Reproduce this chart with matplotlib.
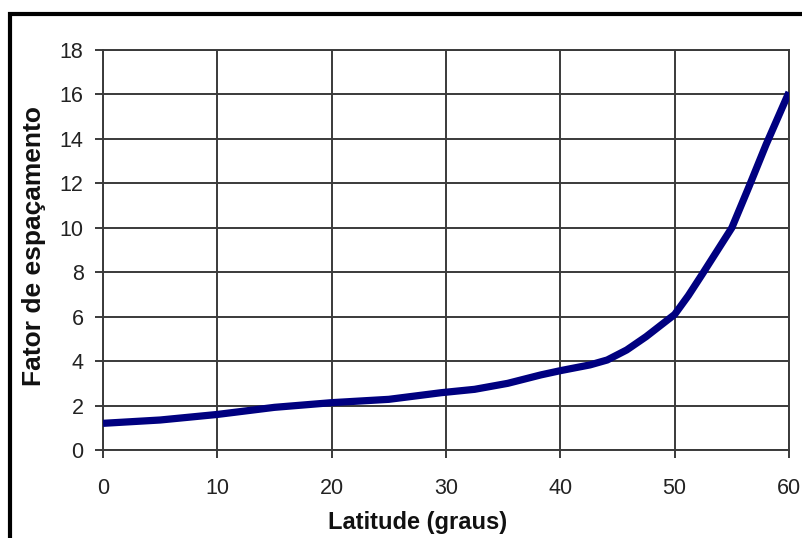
import matplotlib
matplotlib.use('Agg')
import matplotlib.pyplot as plt
from matplotlib.patches import Rectangle

# dados
latitude = [0, 5, 10, 15, 20, 25, 29.6, 32.5, 35.4, 38.3, 40, 42.6, 44.1, 45.8,
            47.5, 49, 50, 51.2, 52.4, 53.7, 55, 56.5, 58, 60]
fator = [1.2, 1.35, 1.6, 1.92, 2.13, 2.28, 2.58, 2.73, 3.0, 3.38, 3.57, 3.83, 4.05, 4.5,
         5.1, 5.7, 6.1, 6.95, 7.9, 8.95, 10.0, 11.85, 13.75, 16.1]
xticks = [0, 10, 20, 30, 40, 50, 60]
yticks = list(range(0, 19, 2))

plt.rcParams['font.family'] = ['Liberation Sans', 'DejaVu Sans']

fig = plt.figure(figsize=(8.02, 5.38), dpi=100)
ax = fig.add_axes([103/802, 1 - 450/538, 686/802, 400/538])

grid_color = '#3a3a3a'
ax.plot(latitude, fator, color='#000080', linewidth=5.2, solid_capstyle='butt',
        solid_joinstyle='round', zorder=3)

ax.set_xlim(0, 60)
ax.set_ylim(0, 18)
ax.set_xticks(xticks)
ax.set_yticks(yticks)
ax.grid(True, color=grid_color, linewidth=1.4)
for s in ax.spines.values():
    s.set_color(grid_color)
    s.set_linewidth(1.4)

ax.tick_params(axis='both', colors=grid_color, width=1.4, length=6, labelsize=15.5,
               labelcolor='#222222')
ax.tick_params(axis='x', pad=14)
ax.tick_params(axis='y', pad=8)

ax.set_xlabel('Latitude (graus)', fontsize=17, fontweight='bold', color='#111111')
ax.xaxis.set_label_coords((418 - 103) / 686, -(511 - 450) / 400)
ax.set_ylabel('Fator de espaçamento', fontsize=19, fontweight='bold', color='#111111')
ax.yaxis.set_label_coords(-(103 - 46) / 686, 0.51)

# moldura preta em volta do gráfico
frame = Rectangle((9.5/802, -0.2), 1.0, 1.2 - 13.5/538, transform=fig.transFigure,
                  fill=False, edgecolor='black', linewidth=3, clip_on=False)
fig.patches.append(frame)

fig.savefig('out.png', dpi=100)
